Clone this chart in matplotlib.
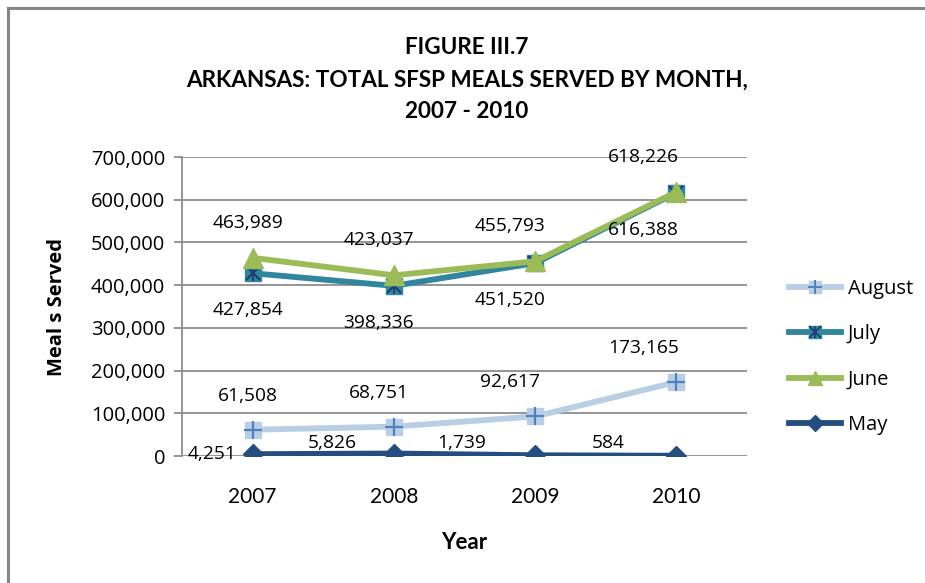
import matplotlib
matplotlib.use("Agg")
import matplotlib.pyplot as plt
from matplotlib.lines import Line2D
from matplotlib.ticker import FuncFormatter

years = ["2007", "2008", "2009", "2010"]
may = [4251, 5826, 1739, 584]
june = [463989, 423037, 455793, 618226]
july = [427854, 398336, 451520, 616388]
august = [61508, 68751, 92617, 173165]

title_lines = ["FIGURE III.7",
               "ARKANSAS: TOTAL SFSP MEALS SERVED BY MONTH,",
               "2007 - 2010"]

W, H = 925, 583
fig = plt.figure(figsize=(W / 100, H / 100), dpi=100)

NARROW = ["Lato", "DejaVu Sans"]
BODY = ["Open Sans", "DejaVu Sans"]

# outer chart frame (top and left edges visible)
fig.add_artist(Line2D([8 / W, 8 / W], [0, 1 - 8 / H], color="#868686", lw=2.2,
                      transform=fig.transFigure))
fig.add_artist(Line2D([8 / W, 1], [1 - 8 / H, 1 - 8 / H], color="#868686", lw=2.2,
                      transform=fig.transFigure))

# plot area in pixels
L, R, T, B = 182, 747, 157, 456
ax = fig.add_axes([L / W, 1 - B / H, (R - L) / W, (B - T) / H])

x = list(range(len(years)))
c_aug, c_aug_m = "#B9CDE5", "#4F81BD"
c_jul, c_jul_m = "#31859C", "#1F3F77"
c_jun = "#9BBB59"
c_may = "#254E80"

lw = 4.2
ax.plot(x, august, color=c_aug, lw=lw, marker="s", ms=12, mfc=c_aug, mec=c_aug,
        zorder=3, solid_capstyle="round")
ax.plot(x, august, ls="none", marker="+", ms=13, mew=1.6, color=c_aug_m, zorder=4)

ax.plot(x, july, color=c_jul, lw=lw, marker="s", ms=11, mfc=c_jul, mec=c_jul, zorder=3)
ax.plot(x, july, ls="none", marker="x", ms=10, mew=1.6, color=c_jul_m, zorder=4)
ax.plot(x, july, ls="none", marker="|", ms=11, mew=1.4, color=c_jul_m, zorder=4)

ax.plot(x, june, color=c_jun, lw=lw, marker="^", ms=14, mfc=c_jun, mec=c_jun, zorder=5)

ax.plot(x, may, color=c_may, lw=lw, marker="D", ms=10, mfc=c_may, mec=c_may, zorder=5)

ax.set_xlim(-0.5, 3.5)
ax.set_ylim(0, 700000)
ax.set_yticks(range(0, 700001, 100000))
ax.yaxis.set_major_formatter(FuncFormatter(lambda v, p: f"{int(v):,}"))
ax.set_xticks(x)
ax.set_xticklabels(years, fontfamily=NARROW, fontsize=15)
for lab in ax.get_yticklabels():
    lab.set_fontfamily(BODY)
    lab.set_fontsize(14.5)

ax.grid(axis="y", color="#8C8C8C", lw=1.3)
ax.set_axisbelow(True)
for s in ["top", "right", "bottom"]:
    ax.spines[s].set_visible(False)
ax.spines["left"].set_color("#8C8C8C")
ax.spines["left"].set_linewidth(1.3)
ax.tick_params(axis="y", length=6, width=1.3, color="#8C8C8C", pad=6, labelcolor="black")
ax.tick_params(axis="x", length=0, pad=22)

ax.set_ylabel("Meal s Served", fontfamily=BODY, fontweight="bold", fontsize=14.5,
              labelpad=17)
ax.set_xlabel("Year", fontfamily=NARROW, fontweight="bold", fontsize=16, labelpad=18)

# value labels
col_dx = [-5, -15, -25, -33]
lab_kw = dict(textcoords="offset pixels", ha="center", va="center",
              fontfamily=BODY, fontsize=13.8, zorder=6, annotation_clip=False)
for i in x:
    ax.annotate(f"{june[i]:,}", (i, june[i]), xytext=(col_dx[i], 35), **lab_kw)
    ax.annotate(f"{july[i]:,}", (i, july[i]), xytext=(col_dx[i], -37), **lab_kw)
    ax.annotate(f"{august[i]:,}", (i, august[i]), xytext=(col_dx[i], 34), **lab_kw)
may_dx = [-41, -62, -73, -68]
may_dy = [0, 11, 12, 13]
for i in x:
    ax.annotate(f"{may[i]:,}", (i, may[i]), xytext=(may_dx[i], may_dy[i]), **lab_kw)

# legend
handles = [
    (Line2D([], [], color=c_aug, lw=lw, marker="s", ms=8, mfc=c_aug, mec=c_aug),
     Line2D([], [], ls="none", marker="+", ms=10, mew=1.4, color=c_aug_m)),
    (Line2D([], [], color=c_jul, lw=lw, marker="s", ms=8, mfc=c_jul, mec=c_jul),
     Line2D([], [], ls="none", marker="x", ms=8, mew=1.4, color=c_jul_m),
     Line2D([], [], ls="none", marker="|", ms=9, mew=1.2, color=c_jul_m)),
    Line2D([], [], color=c_jun, lw=lw, marker="^", ms=10, mfc=c_jun, mec=c_jun),
    Line2D([], [], color=c_may, lw=lw, marker="D", ms=8, mfc=c_may, mec=c_may),
]
labels = ["August", "July", "June", "May"]
leg = fig.legend(handles, labels, loc="center left",
                 bbox_to_anchor=(771 / W, 1 - 357 / H), frameon=False,
                 prop={"family": BODY, "size": 14.5}, handlelength=2.6,
                 handletextpad=0.3, labelspacing=1.27)

# title
for txt, yp in zip(title_lines, [47, 80, 112]):
    fig.text(467 / W, 1 - yp / H, txt, ha="center", va="center",
             fontfamily=NARROW, fontweight="bold", fontsize=16.2)

fig.savefig("out.png", dpi=100)
